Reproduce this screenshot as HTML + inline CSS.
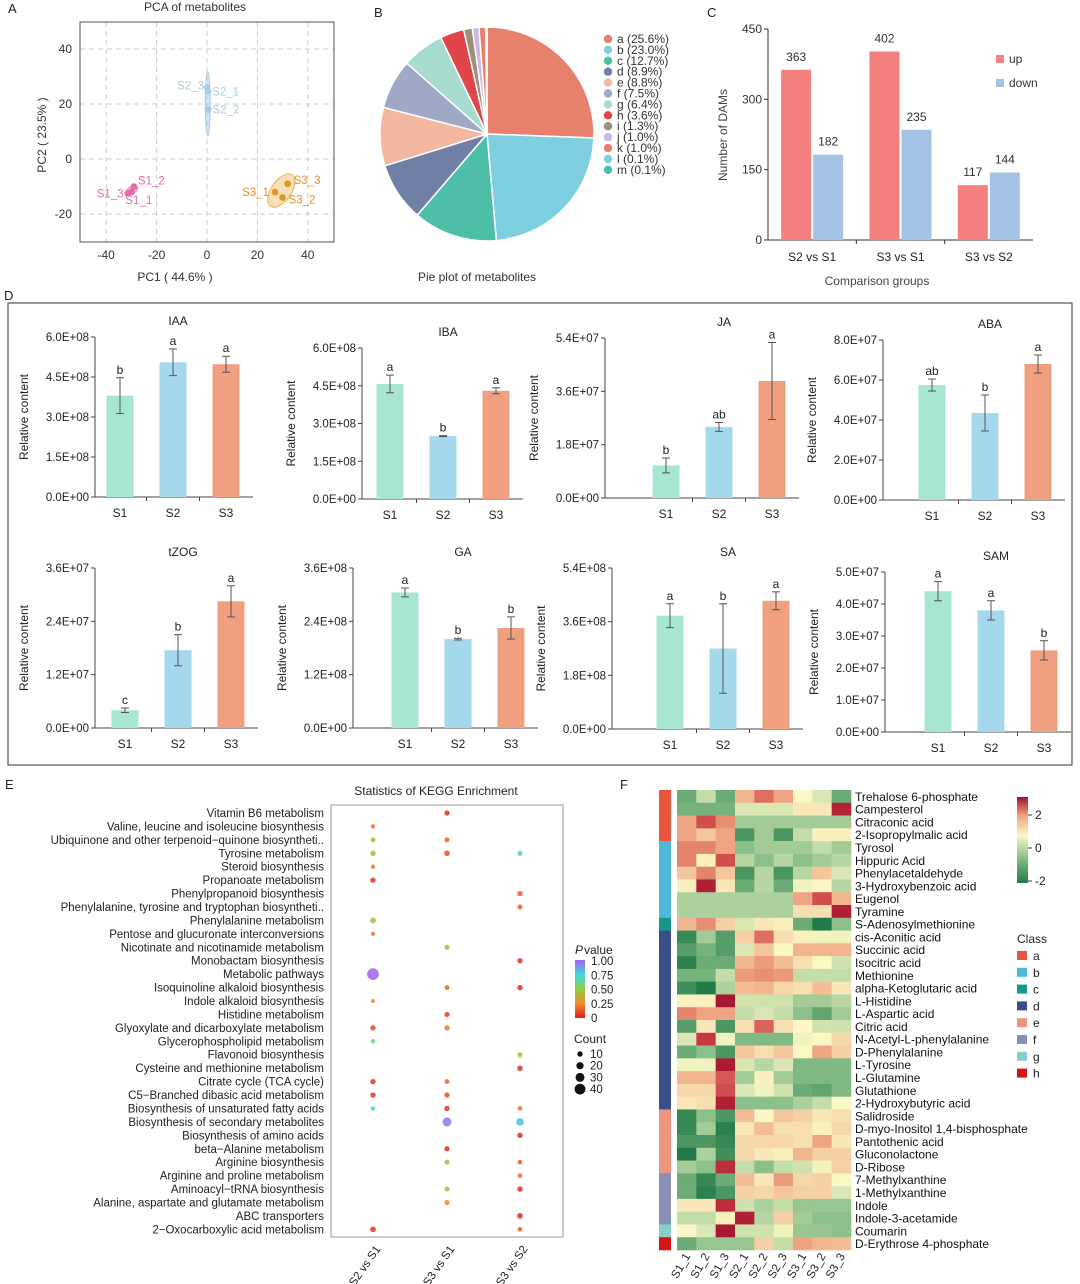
<!DOCTYPE html>
<html><head><meta charset="utf-8"><style>
body{margin:0;background:#fff}
svg{display:block;font-family:"Liberation Sans",Arial,sans-serif}
</style></head><body>
<svg id="fig" width="1080" height="1284" viewBox="0 0 1080 1284" xmlns="http://www.w3.org/2000/svg">
<rect width="1080" height="1284" fill="#fff"/>
<g font-size="13" fill="#222">
<text x="8" y="13">A</text>
<text x="374" y="17">B</text>
<text x="707" y="17">C</text>
<text x="4" y="300">D</text>
<text x="5" y="789">E</text>
<text x="620" y="789">F</text>
</g>
<rect x="8" y="303" width="1064" height="462" fill="none" stroke="#555" stroke-width="1.2"/>
</svg>
<script>
// ---------- DATA ----------
// A: PCA
const pcaLabels=["S1_1","S1_2","S1_3","S2_1","S2_2","S2_3","S3_1","S3_2","S3_3"];
const pcaPC1=[-30,-29,-31.5,0.5,0.6,0,27,30,32];
const pcaPC2=[-12,-10,-12.5,24.5,18,26,-12,-14,-9];
const pcaXTicks=[-40,-20,0,20,40];
const pcaYTicks=[-20,0,20,40];
// B: pie
const pieCats=["a","b","c","d","e","f","g","h","i","j","k","l","m"];
const pieVals=[25.6,23.0,12.7,8.9,8.8,7.5,6.4,3.6,1.3,1.0,1.0,0.1,0.1];
// C: DAMs
const damGroups=["S2 vs S1","S3 vs S1","S3 vs S2"];
const damUp=[363,402,117];
const damDown=[182,235,144];
const damTicks=[0,150,300,450];
// D: hormones
const hormNames=["IAA","IBA","JA","ABA","tZOG","GA","SA","SAM"];
const hormMax=[6e8,6e8,5.4e7,8e7,3.6e7,3.6e8,5.4e8,5e7];
const hormTickCount=[4,4,3,4,3,3,3,5];
const hormTickLabels=[["0.0E+00","1.5E+08","3.0E+08","4.5E+08","6.0E+08"],["0.0E+00","1.5E+08","3.0E+08","4.5E+08","6.0E+08"],["0.0E+00","1.8E+07","3.6E+07","5.4E+07"],["0.0E+00","2.0E+07","4.0E+07","6.0E+07","8.0E+07"],["0.0E+00","1.2E+07","2.4E+07","3.6E+07"],["0.0E+00","1.2E+08","2.4E+08","3.6E+08"],["0.0E+00","1.8E+08","3.6E+08","5.4E+08"],["0.0E+00","1.0E+07","2.0E+07","3.0E+07","4.0E+07","5.0E+07"]];
const hormS1=[3.8e8,4.57e8,1.1e7,5.75e7,0.4e7,3.05e8,3.8e8,4.4e7];
const hormS2=[5.05e8,2.5e8,2.4e7,4.35e7,1.75e7,2.0e8,2.7e8,3.8e7];
const hormS3=[4.98e8,4.3e8,3.95e7,6.8e7,2.85e7,2.25e8,4.3e8,2.55e7];
const hormErrS1=[0.67e8,0.35e8,0.25e7,0.3e7,0.05e7,0.1e8,0.4e8,0.3e7];
const hormErrS2=[0.5e8,0.02e8,0.15e7,0.9e7,0.35e7,0.02e8,1.5e8,0.3e7];
const hormErrS3=[0.3e8,0.12e8,1.3e7,0.45e7,0.35e7,0.25e8,0.3e8,0.3e7];
const hormLetS1=["b","a","b","ab","c","a","a","a"];
const hormLetS2=["a","b","ab","b","b","b","b","a"];
const hormLetS3=["a","a","a","a","a","b","a","b"];
// E: KEGG
const keggPaths=["Vitamin B6 metabolism","Valine, leucine and isoleucine biosynthesis","Ubiquinone and other terpenoid\u2212quinone biosyntheti..","Tyrosine metabolism","Steroid biosynthesis","Propanoate metabolism","Phenylpropanoid biosynthesis","Phenylalanine, tyrosine and tryptophan biosyntheti..","Phenylalanine metabolism","Pentose and glucuronate interconversions","Nicotinate and nicotinamide metabolism","Monobactam biosynthesis","Metabolic pathways","Isoquinoline alkaloid biosynthesis","Indole alkaloid biosynthesis","Histidine metabolism","Glyoxylate and dicarboxylate metabolism","Glycerophospholipid metabolism","Flavonoid biosynthesis","Cysteine and methionine metabolism","Citrate cycle (TCA cycle)","C5\u2212Branched dibasic acid metabolism","Biosynthesis of unsaturated fatty acids","Biosynthesis of secondary metabolites","Biosynthesis of amino acids","beta\u2212Alanine metabolism","Arginine biosynthesis","Arginine and proline metabolism","Aminoacyl\u2212tRNA biosynthesis","Alanine, aspartate and glutamate metabolism","ABC transporters","2\u2212Oxocarboxylic acid metabolism"];
const keggComps=["S2 vs S1","S3 vs S1","S3 vs S2"];
const keggRowsA=[1,2,3,4,5,8,9,12,14,16,17,20,21,22,31];
const keggPA=[0.2,0.4,0.45,0.2,0.05,0.45,0.2,1.0,0.25,0.1,0.6,0.05,0.05,0.65,0.05];
const keggCountA=[5,8,10,4,10,12,4,45,4,10,5,10,10,6,12];
const keggRowsB=[0,2,3,10,13,15,16,20,21,22,23,25,26,28,29];
const keggPB=[0.03,0.15,0.12,0.4,0.15,0.05,0.2,0.15,0.1,0.05,0.95,0.03,0.4,0.4,0.25];
const keggCountB=[9,8,12,8,7,9,9,7,9,10,30,9,8,8,9];
const keggRowsC=[3,6,7,11,13,18,19,22,23,24,26,27,28,30,31];
const keggPC=[0.65,0.15,0.15,0.03,0.03,0.45,0.03,0.2,0.8,0.03,0.15,0.2,0.03,0.03,0.15];
const keggCountC=[9,10,8,9,10,9,10,7,22,10,7,7,10,12,7];
// F: heatmap
const heatCols=["S1_1","S1_2","S1_3","S2_1","S2_2","S2_3","S3_1","S3_2","S3_3"];
const heatRowsNames=["Trehalose 6-phosphate","Campesterol","Citraconic acid","2-Isopropylmalic acid","Tyrosol","Hippuric Acid","Phenylacetaldehyde","3-Hydroxybenzoic acid","Eugenol","Tyramine","S-Adenosylmethionine","cis-Aconitic acid","Succinic acid","Isocitric acid","Methionine","alpha-Ketoglutaric acid","L-Histidine","L-Aspartic acid","Citric acid","N-Acetyl-L-phenylalanine","D-Phenylalanine","L-Tyrosine","L-Glutamine","Glutathione","2-Hydroxybutyric acid","Salidroside","D-myo-Inositol 1,4-bisphosphate","Pantothenic acid","Gluconolactone","D-Ribose","7-Methylxanthine","1-Methylxanthine","Indole","Indole-3-acetamide","Coumarin","D-Erythrose 4-phosphate"];
const heatClass=["a","a","a","a","b","b","b","b","b","b","c","d","d","d","d","d","d","d","d","d","d","d","d","d","d","e","e","e","e","e","f","f","f","f","g","h"];
const heatVals=[
[-1.3,-0.5,-1.3,0.8,1.5,1,0,-0.3,-1.3],
[-1.2,-1.2,-1.2,-0.3,-0.3,-0.3,0.2,0.2,2.5],
[1,1.8,1.2,-0.8,-0.8,-0.8,-0.8,-0.8,-0.8],
[1,0.6,1,-1.6,-0.8,-1.6,-0.5,0.1,0.1],
[1.3,1.3,1,-1,-0.8,-0.8,-0.8,-0.5,-0.8],
[1.3,0.1,1.8,-0.6,-1,-0.6,-1,-0.8,-0.6],
[0.6,1.3,0.6,-1.6,-0.6,-1.6,-0.6,0.6,-0.3],
[0.1,2.6,0.2,-1.3,-0.6,-1.3,-0.1,0,-0.6],
[-0.7,-0.7,-0.7,-0.7,-0.7,-0.7,1,1.8,0.8],
[-0.7,-0.7,-0.7,-0.7,-0.7,-0.7,0.3,0.3,2.6],
[0.8,1.2,0.5,-0.3,0.2,0.1,-1.3,-2,-1],
[-1.8,-0.8,-1.5,0.5,1.5,0.3,0.1,-0.1,-0.1],
[-1.5,-1.2,-1.5,-0.3,0.6,0,0.8,0.8,0.8],
[-1.9,-1.3,-1.3,0.8,1.1,0.7,0.3,0,-0.4],
[-1.2,-1.2,-0.5,1.1,1.2,1.1,-0.5,-0.5,-0.5],
[-1.7,-2,-0.7,0.7,0.8,0.4,0.3,0.7,0.2],
[0.1,0.1,2.8,-0.4,-0.4,-0.4,-0.8,-0.8,-0.6],
[1.3,1,1,-0.5,-0.3,-0.5,-1,-1.4,-0.8],
[-1.5,0.2,-1.6,0.3,1.6,0.3,0,-0.4,-0.4],
[-0.3,2,-0.1,-1.1,-1.1,-1.1,-0.1,0,0.4],
[-1.3,-1,-1.6,0.6,0.3,0.6,0,1,0.5],
[-0.1,-0.1,2.7,-0.3,-0.6,-0.3,-1.1,-1.1,-1.1],
[0.8,0.8,1.7,-0.8,0.1,-0.8,-1.1,-1.1,-1.1],
[0.4,0.4,1.8,-0.3,-0.1,-0.4,-1.3,-1.4,-1.1],
[0.2,0.3,2.6,-1,-1,-1,-0.7,-0.5,0],
[-1.8,-1,-1.6,0.7,0,0.6,0.5,0.2,0.3],
[-1.8,-0.8,-1.9,0.2,0.7,0.3,0.3,0.1,0.4],
[-1.6,-1.6,-1.8,0.4,0.4,0.4,0.3,1,0.2],
[-2,-0.7,-1.7,0.4,0.2,0.1,0.8,0.5,0.5],
[-0.8,-1,2.3,-0.5,-1,-0.5,-0.4,-0.1,0.5],
[-1.3,-1.8,-1.3,0.7,0.2,1.1,0.4,0.5,0],
[-1.3,-1.9,-1.6,0.5,0.4,0.6,0.5,0.5,-0.3],
[0.2,0.2,2.3,-0.4,-0.7,-0.5,-0.9,-0.9,-0.9],
[-0.5,-0.5,0.1,2.6,-0.6,0.5,-0.8,-1,-1],
[0,-0.3,2.8,-0.4,-0.4,-0.1,-0.9,-0.9,-1],
[-1.3,-0.9,-0.9,-0.9,0.5,-0.5,1,0.8,0.7]];

// ---------- HELPERS ----------
const NS="http://www.w3.org/2000/svg";
const svg=document.getElementById("fig");
function mk(tag,attrs,parent){const e=document.createElementNS(NS,tag);for(const k in attrs)e.setAttribute(k,attrs[k]);(parent||svg).appendChild(e);return e;}
function txt(s,attrs,parent){const e=mk("text",attrs,parent);e.textContent=s;return e;}
function hex(c){return [parseInt(c.slice(1,3),16),parseInt(c.slice(3,5),16),parseInt(c.slice(5,7),16)];}
function interp(stops,v){if(v<=stops[0][0])return stops[0][1];for(let i=1;i<stops.length;i++){if(v<=stops[i][0]){const t=(v-stops[i-1][0])/(stops[i][0]-stops[i-1][0]);const a=hex(stops[i-1][1]),b=hex(stops[i][1]);return "rgb("+a.map((x,j)=>Math.round(x+(b[j]-x)*t)).join(",")+")";}}return stops[stops.length-1][1];}

// ---------- A: PCA ----------
(function(){
const g=mk("g",{});


const L=80,R=334,T=22,B=242;
const sx=v=>207+v*2.52, sy=v=>159-v*2.75;
const t=txt("PCA of  metabolites",{x:195,y:11,"font-size":12,"text-anchor":"middle",fill:"#333"},g);


pcaXTicks.forEach(v=>{const l=mk("line",{x1:sx(v),x2:sx(v),y1:T,y2:B,stroke:"#ccc","stroke-dasharray":"5,4"},g);


const tl=txt(String(v),{x:sx(v),y:B+17,"font-size":12,"text-anchor":"middle",fill:"#333"},g);

});
pcaYTicks.forEach(v=>{const l=mk("line",{x1:L,x2:R,y1:sy(v),y2:sy(v),stroke:"#ccc","stroke-dasharray":"5,4"},g);


const tl=txt(String(v),{x:L-8,y:sy(v)+4,"font-size":12,"text-anchor":"end",fill:"#333"},g);

});
const box=mk("rect",{x:L,y:T,width:R-L,height:B-T,fill:"none",stroke:"#555"},g);


const xl=txt("PC1  ( 44.6%  )",{x:175,y:281,"font-size":12,"text-anchor":"middle",fill:"#333"},g);


const yl=txt("PC2  ( 23.5%  )",{x:0,y:0,"font-size":12,"text-anchor":"middle",fill:"#333",transform:"translate(46,135) rotate(-90)"},g);


const grpCol=["#e86aa6","#a9cde6","#e8921e"];
const e2=mk("ellipse",{cx:sx(0.3),cy:sy(20),rx:2.5,ry:32,fill:"#a9cde6","fill-opacity":0.5,stroke:"#a9cde6"},g);


const e1=mk("ellipse",{cx:sx(-30),cy:sy(-11.5),rx:7,ry:3.5,fill:"#e86aa6","fill-opacity":0.35,stroke:"#e86aa6",transform:`rotate(-35 ${sx(-30)} ${sy(-11.5)})`},g);


const e3=mk("ellipse",{cx:sx(29.5),cy:sy(-11.5),rx:10,ry:19,fill:"#f5d9a8","fill-opacity":0.8,stroke:"#e8b060",transform:`rotate(35 ${sx(29.5)} ${sy(-11.5)})`},g);


const off={"S1_1":[-6,12,"start"],"S1_2":[4,-2,"start"],"S1_3":[-4,4,"end"],"S2_1":[4,4,"start"],"S2_2":[4,4,"start"],"S2_3":[-3,2,"end"],"S3_1":[-6,4,"end"],"S3_2":[6,6,"start"],"S3_3":[6,0,"start"]};
pcaLabels.forEach((lab,i)=>{const c=grpCol[Math.floor(i/3)];
const p=mk("circle",{cx:sx(pcaPC1[i]),cy:sy(pcaPC2[i]),r:3.3,fill:c},g);


const o=off[lab];
const tl=txt(lab,{x:sx(pcaPC1[i])+o[0],y:sy(pcaPC2[i])+o[1],"font-size":11.5,"text-anchor":o[2],fill:c},g);

});
})();

// ---------- B: PIE ----------
(function(){
const g=mk("g",{});


const cols=["#e8806e","#7ecfe0","#4dbfa8","#6f7fa6","#f2b8a0","#9fa9c6","#a8dccf","#e0454a","#a08d7a","#c8b8e8","#e8806e","#7ecfe0","#4dbfa8"];
const cx=487,cy=134,r=107;const tot=pieVals.reduce((a,b)=>a+b,0);let a0=-Math.PI/2;
pieVals.forEach((v,i)=>{const a1=a0+v/tot*2*Math.PI;const lg=(a1-a0)>Math.PI?1:0;
const p=mk("path",{d:`M${cx},${cy}L${cx+r*Math.cos(a0)},${cy+r*Math.sin(a0)}A${r},${r} 0 ${lg} 1 ${cx+r*Math.cos(a1)},${cy+r*Math.sin(a1)}Z`,fill:cols[i],stroke:"#fff","stroke-width":1.5},g);


a0=a1;
const dy=39+i*10.9;
const d=mk("circle",{cx:608,cy:dy,r:4.2,fill:cols[i]},g);


const t=txt(pieCats[i]+" ("+v.toFixed(1)+"%)",{x:617,y:dy+4,"font-size":12,fill:"#333"},g);

});
const tt=txt("Pie plot of metabolites",{x:477,y:281,"font-size":12,"text-anchor":"middle",fill:"#333"},g);


})();

// ---------- C: DAMs ----------
(function(){
const g=mk("g",{});


const X0=768,X1=1033,Y0=240,Y1=29;const sy=v=>Y0-(v/450)*(Y0-Y1);
const ax=mk("path",{d:`M${X0},${Y1}V${Y0}H${X1}`,fill:"none",stroke:"#333"},g);


damTicks.forEach(v=>{const l=mk("line",{x1:X0-4,x2:X0,y1:sy(v),y2:sy(v),stroke:"#333"},g);


const t=txt(String(v),{x:X0-6,y:sy(v)+4,"font-size":12,"text-anchor":"end",fill:"#333"},g);

});
const gw=(X1-X0)/3;
damGroups.forEach((n,i)=>{const c=X0+gw*(i+0.5);
if(i>0){const l=mk("line",{x1:X0+gw*i,x2:X0+gw*i,y1:Y0,y2:Y0+4,stroke:"#333"},g);

}
const b1=mk("rect",{x:c-31,y:sy(damUp[i]),width:30,height:Y0-sy(damUp[i]),fill:"#f48080"},g);


const b2=mk("rect",{x:c+1,y:sy(damDown[i]),width:30,height:Y0-sy(damDown[i]),fill:"#a4c4e6"},g);


const t1=txt(String(damUp[i]),{x:c-16,y:sy(damUp[i])-9,"font-size":12,"text-anchor":"middle",fill:"#333"},g);


const t2=txt(String(damDown[i]),{x:c+16,y:sy(damDown[i])-9,"font-size":12,"text-anchor":"middle",fill:"#333"},g);


const tl=txt(n,{x:c,y:Y0+21,"font-size":12,"text-anchor":"middle",fill:"#222"},g);

});
const xt=txt("Comparison groups",{x:877,y:285,"font-size":12,"text-anchor":"middle",fill:"#444"},g);


const yt=txt("Number of DAMs",{x:0,y:0,"font-size":12,"text-anchor":"middle",fill:"#444",transform:"translate(727,135) rotate(-90)"},g);


const s1=mk("rect",{x:996,y:55,width:8,height:8,fill:"#f48080"},g);


const l1=txt("up",{x:1009,y:63,"font-size":12,fill:"#333"},g);


const s2=mk("rect",{x:996,y:79,width:8,height:8,fill:"#a4c4e6"},g);


const l2=txt("down",{x:1009,y:87,"font-size":12,fill:"#333"},g);


})();

// ---------- D: hormones ----------
(function(){
const axX=[95,362,605,883,95,353,612,885];
const topY=[337,348,338,340,568,568,568,572];
const botY=[497,499,498,500,728,728,729,732];
const bar1=[120,390,666,932,125,405,670,938];
const cols=["#a8e6d4","#a5d8ec","#f0a080"];
hormNames.forEach((nm,k)=>{
const g=mk("g",{});


const T=topY[k],B=botY[k],X=axX[k],sp=53;const sy=v=>B-(v/hormMax[k])*(B-T);
const xEnd=bar1[k]+2*sp+27;
const ax=mk("path",{d:`M${X},${T}V${B}H${xEnd}`,fill:"none",stroke:"#444"},g);


hormTickLabels[k].forEach((lab,i)=>{const v=hormMax[k]*i/hormTickCount[k];
const l=mk("line",{x1:X-4,x2:X,y1:sy(v),y2:sy(v),stroke:"#444"},g);


const t=txt(lab,{x:X-6,y:sy(v)+4,"font-size":11.5,"text-anchor":"end",fill:"#222"},g);

});
for(let i=1;i<3;i++){const tx=bar1[k]+sp*(i-0.5);const l=mk("line",{x1:tx,x2:tx,y1:B,y2:B+4,stroke:"#444"},g);

}
const vals=[hormS1[k],hormS2[k],hormS3[k]],errs=[hormErrS1[k],hormErrS2[k],hormErrS3[k]],lets=[hormLetS1[k],hormLetS2[k],hormLetS3[k]];
vals.forEach((v,i)=>{const cx=bar1[k]+sp*i;
const b=mk("rect",{x:cx-13.5,y:sy(v),width:27,height:B-sy(v),fill:cols[i]},g);


const eT=sy(v+errs[i]),eB=sy(v-errs[i]);
const e=mk("path",{d:`M${cx},${eT}V${eB}M${cx-4},${eT}H${cx+4}M${cx-4},${eB}H${cx+4}`,stroke:"#555","stroke-width":1,fill:"none"},g);


const lt=txt(lets[i],{x:cx,y:eT-4,"font-size":12,"text-anchor":"middle",fill:"#222"},g);


const xl=txt("S"+(i+1),{x:cx,y:B+20,"font-size":12,"text-anchor":"middle",fill:"#222"},g);

});
const tt=txt(nm,{x:bar1[k]+sp+5,y:T-12,"font-size":12,"text-anchor":"middle",fill:"#222"},g);


const yt=txt("Relative content",{x:0,y:0,"font-size":12,"text-anchor":"middle",fill:"#222",transform:`translate(${X-67},${(T+B)/2}) rotate(-90)`},g);


});
})();

// ---------- E: KEGG ----------
(function(){
const g=mk("g",{});


const L=331,R=563,T=805,B=1237;const rowY=i=>813+i*13.43;const colX=[373,447,520];
const pStops=[[0,"#e02020"],[0.25,"#f08a30"],[0.5,"#8ad040"],[0.75,"#40d8e0"],[1,"#a060f0"]];
const tt=txt("Statistics of KEGG Enrichment",{x:436,y:795,"font-size":12,"text-anchor":"middle",fill:"#222"},g);


const box=mk("rect",{x:L,y:T,width:R-L,height:B-T,fill:"none",stroke:"#999"},g);


keggPaths.forEach((p,i)=>{const t=txt(p,{x:324,y:rowY(i)+4,"font-size":11.5,"text-anchor":"end",fill:"#222"},g);

});
keggComps.forEach((c,i)=>{const t=txt(c,{x:0,y:0,"font-size":11.5,"text-anchor":"end",fill:"#222",transform:`translate(${colX[i]+8},${B+12}) rotate(-55)`},g);

});
const sets=[[keggRowsA,keggPA,keggCountA],[keggRowsB,keggPB,keggCountB],[keggRowsC,keggPC,keggCountC]];
sets.forEach((s,ci)=>{s[0].forEach((row,j)=>{
const d=mk("circle",{cx:colX[ci],cy:rowY(row),r:1.8+s[2][j]*0.09,fill:interp(pStops,s[1][j]),"fill-opacity":0.85},g);

});});
const pl=txt("P",{x:575,y:954,"font-size":12,"font-style":"italic",fill:"#222"},g);


const pl2=txt("value",{x:584,y:954,"font-size":12,fill:"#222"},g);


const defs=mk("defs",{},g);const lg=mk("linearGradient",{id:"pg",x1:0,y1:1,x2:0,y2:0},defs);
pStops.forEach(s=>mk("stop",{offset:s[0],"stop-color":s[1]},lg));
const cb=mk("rect",{x:575,y:960,width:10,height:58,fill:"url(#pg)"},g);


["0","0.25","0.50","0.75","1.00"].forEach((s,i)=>{const t=txt(s,{x:591,y:1022-i*14.2,"font-size":11.5,fill:"#222"},g);

});
const ct=txt("Count",{x:574,y:1043,"font-size":12,fill:"#222"},g);


[10,20,30,40].forEach((n,i)=>{const d=mk("circle",{cx:580,cy:1054+i*11.7,r:1.8+n*0.09,fill:"#111"},g);


const t=txt(String(n),{x:590,y:1058+i*11.7,"font-size":11.5,fill:"#222"},g);

});
})();

// ---------- F: heatmap ----------
(function(){
const g=mk("g",{});


const X0=677,Y0=790,cw=(851-677)/9,rh=(1250-790)/36;
const hs=[[-2,"#217a48"],[-1,"#8cc08a"],[0,"#fbf8c6"],[1,"#efa583"],[2,"#c8383f"],[3,"#a0102c"]];
const classCol={a:"#e8553e",b:"#4fb8d8",c:"#14988a",d:"#3a4f8a",e:"#ee9580",f:"#8890b8",g:"#88d0c8",h:"#d51515"};
heatVals.forEach((row,r)=>{row.forEach((v,c)=>{
const cell=mk("rect",{x:X0+c*cw,y:Y0+r*rh,width:cw+0.3,height:rh+0.3,fill:interp(hs,v)},g);

});
const cb=mk("rect",{x:659,y:Y0+r*rh,width:12,height:rh+0.3,fill:classCol[heatClass[r]]},g);


const t=txt(heatRowsNames[r],{x:855,y:Y0+r*rh+rh/2+4.5,"font-size":12,fill:"#111"},g);

});
heatCols.forEach((c,i)=>{const t=txt(c,{x:0,y:0,"font-size":11.5,"text-anchor":"end",fill:"#222",transform:`translate(${X0+cw*(i+0.5)+4},${1256}) rotate(-60)`},g);

});
const defs=mk("defs",{},g);const lg=mk("linearGradient",{id:"hg",x1:0,y1:1,x2:0,y2:0},defs);
[[0,"#217a48"],[0.3,"#8cc08a"],[0.55,"#fbf8c6"],[0.78,"#efa583"],[1,"#a0102c"]].forEach(s=>mk("stop",{offset:s[0],"stop-color":s[1]},lg));
const cbar=mk("rect",{x:1017,y:797,width:11,height:86,fill:"url(#hg)"},g);


[["2",815],["0",848],["-2",881]].forEach(p=>{const l=mk("line",{x1:1028,x2:1032,y1:p[1],y2:p[1],stroke:"#333"},g);


const t=txt(p[0],{x:1035,y:p[1]+4,"font-size":12,fill:"#222"},g);

});
const ct=txt("Class",{x:1017,y:943,"font-size":12,fill:"#222"},g);


Object.keys(classCol).forEach((k,i)=>{const y=951+i*16.8;
const s=mk("rect",{x:1017,y:y,width:10,height:9,fill:classCol[k]},g);


const t=txt(k,{x:1033,y:y+9,"font-size":12,fill:"#222"},g);

});
})();
</script>
</body></html>
